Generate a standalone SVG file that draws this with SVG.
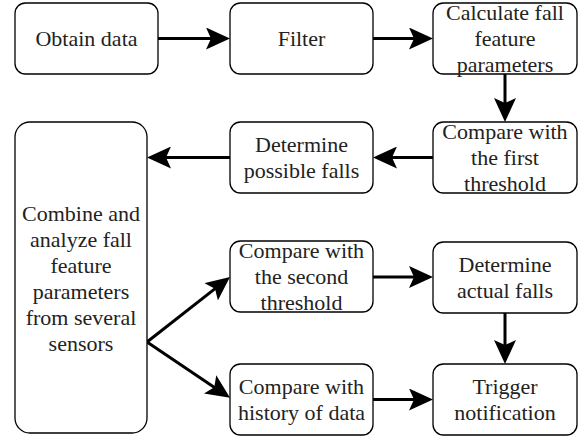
<svg xmlns="http://www.w3.org/2000/svg" width="585" height="439" viewBox="0 0 585 439" font-family="Liberation Serif, DejaVu Serif, serif">
<style>
.box{fill:#fff;stroke:#000;stroke-width:1.3}
.t{font-size:22px;fill:#222;text-anchor:middle}
.c{fill:none;stroke:#000;stroke-width:3}
</style>
<defs>
<marker id="ah" markerUnits="userSpaceOnUse" markerWidth="24" markerHeight="22" viewBox="0 0 24 22" refX="16" refY="11" orient="auto">
<path d="M0,0 L24,11 L0,22 L5,11 Z" fill="#000"/>
</marker>
</defs>
<rect width="585" height="439" fill="#fff"/>
<g id="connectors">
<path class="c" d="M158,38.5 H222" marker-end="url(#ah)"/>
<path class="c" d="M373,38.5 H425" marker-end="url(#ah)"/>
<path class="c" d="M505,74 V114" marker-end="url(#ah)"/>
<path class="c" d="M433,157.5 H381" marker-end="url(#ah)"/>
<path class="c" d="M230,157.5 H155" marker-end="url(#ah)"/>
<path class="c" d="M147,342 L223.7,281.9" marker-end="url(#ah)"/>
<path class="c" d="M147,342 L223.4,393.4" marker-end="url(#ah)"/>
<path class="c" d="M373,277 H425" marker-end="url(#ah)"/>
<path class="c" d="M373,399.5 H425" marker-end="url(#ah)"/>
<path class="c" d="M505,313 V356" marker-end="url(#ah)"/>
</g>
<g id="obtain"><rect class="box" x="15" y="3" width="143" height="71" rx="10.5"/><text class="t" x="86.5" y="46" font-family="Liberation Serif">Obtain data</text></g>
<g id="filter"><rect class="box" x="230" y="3" width="143" height="71" rx="10.5"/><text class="t" x="301.5" y="46">Filter</text></g>
<g id="calc"><rect class="box" x="433" y="3" width="144" height="71" rx="10.5"/><text class="t" x="505" y="19.6">Calculate fall</text><text class="t" x="505" y="46">feature</text><text class="t" x="505" y="72.4">parameters</text></g>
<g id="cmp1"><rect class="box" x="433" y="122" width="144" height="71" rx="10.5"/><text class="t" x="505" y="138.6">Compare with</text><text class="t" x="505" y="165">the first</text><text class="t" x="505" y="191.4">threshold</text></g>
<g id="detpos"><rect class="box" x="230" y="122" width="143" height="71" rx="10.5"/><text class="t" x="301.5" y="152">Determine</text><text class="t" x="301.5" y="178.4">possible falls</text></g>
<g id="combine"><rect class="box" x="15" y="122" width="132" height="311" rx="15"/><text class="t" x="81" y="221">Combine and</text><text class="t" x="81" y="247">analyze fall</text><text class="t" x="81" y="273">feature</text><text class="t" x="81" y="299">parameters</text><text class="t" x="81" y="325">from several</text><text class="t" x="81" y="351">sensors</text></g>
<g id="cmp2"><rect class="box" x="230" y="241" width="143" height="71" rx="10.5"/><text class="t" x="301.5" y="257.6">Compare with</text><text class="t" x="301.5" y="284">the second</text><text class="t" x="301.5" y="310.4">threshold</text></g>
<g id="actual"><rect class="box" x="433" y="242" width="144" height="71" rx="10.5"/><text class="t" x="505" y="272">Determine</text><text class="t" x="505" y="298.4">actual falls</text></g>
<g id="history"><rect class="box" x="230" y="364" width="143" height="71" rx="10.5"/><text class="t" x="301.5" y="394">Compare with</text><text class="t" x="301.5" y="420.4">history of data</text></g>
<g id="trigger"><rect class="box" x="433" y="364" width="144" height="71" rx="10.5"/><text class="t" x="505" y="394">Trigger</text><text class="t" x="505" y="420.4">notification</text></g>
</svg>
